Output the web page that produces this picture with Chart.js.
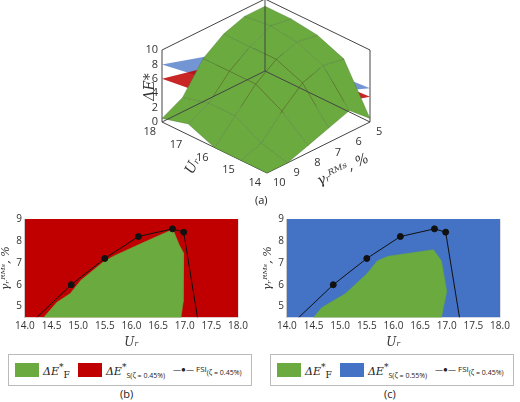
<!DOCTYPE html>
<html><head><meta charset="utf-8">
<script src="https://cdn.jsdelivr.net/npm/chart.js@4.4.0/dist/chart.umd.min.js"></script>
<style>
body{margin:0;width:520px;height:402px;background:#fff;font-family:"Open Sans",sans-serif;position:relative;overflow:hidden}
canvas{position:absolute}
.lg{position:absolute;top:354px;height:30px;border:1px solid #bbb;display:flex;align-items:center;font-size:8px;color:#222;white-space:nowrap}
.sw{display:inline-block;width:24px;height:14px;margin:0 4px 0 6px}
.de{font-family:"DejaVu Serif",serif;font-size:11px}
.lbl{position:absolute;font-size:11px;color:#222}
</style></head><body>
<canvas id="ca" style="left:0px;top:0px" width="520" height="190"></canvas>
<canvas id="cb" style="left:0px;top:205px" width="258" height="145"></canvas>
<canvas id="cc" style="left:262px;top:205px" width="258" height="145"></canvas>
<div class="lg" style="left:8px;width:242px"><span class="sw" style="background:#6aaa3f"></span><span class="de"><i>ΔE</i><sup>*</sup><sub>F</sub></span><span class="sw" style="background:#c00000;margin-left:8px"></span><span class="de"><i>ΔE</i><sup>*</sup><sub style="font-size:7px;font-family:'Open Sans'">S(ζ = 0.45%)</sub></span><span style="margin-left:8px">—●— FSI<sub style="font-size:7px">(ζ = 0.45%)</sub></span></div>
<div class="lg" style="left:270px;width:242px"><span class="sw" style="background:#4472c4;display:none"></span><span class="sw" style="background:#6aaa3f"></span><span class="de"><i>ΔE</i><sup>*</sup><sub>F</sub></span><span class="sw" style="background:#4472c4;margin-left:8px"></span><span class="de"><i>ΔE</i><sup>*</sup><sub style="font-size:7px;font-family:'Open Sans'">S(ζ = 0.55%)</sub></span><span style="margin-left:8px">—●— FSI<sub style="font-size:7px">(ζ = 0.45%)</sub></span></div>
<div class="lbl" style="left:255px;top:192px">(a)</div>
<div class="lbl" style="left:120px;top:386px">(b)</div>
<div class="lbl" style="left:384px;top:386px">(c)</div>
<script>
// 3D panel data
const uGrid = [14, 15, 16, 17, 18];
const gGrid = [5, 6, 7, 8, 9, 10];
const greenZ = [
  [0.5, 3, 2, 1, 0, 0],
  [7, 7.5, 6.5, 4, 1, 0],
  [8.5, 9, 8, 6, 3, 0],
  [9, 9.5, 8, 6, 3, 1.5],
  [9, 9, 8, 6, 2, 0.5]
];
// plane corner values: [U,g,z]
const redPlane = [[18, 10, 6], [18, 5, 2.5], [14, 5, 3.5], [14, 10, 7.9]];
const bluePlane = [[18, 10, 8], [18, 5, 3.5], [14, 5, 4.7], [14, 10, 10.5]];
const zTicks = [0, 2, 4, 6, 8, 10];
const uTicks = [14, 15, 16, 17, 18];
const gTicks = [5, 6, 7, 8, 9, 10];

// 2D panels data
const xTicks = [14, 14.5, 15, 15.5, 16, 16.5, 17, 17.5, 18];
const yTicks = [5, 6, 7, 8, 9];
const fsiU = [14.22, 14.87, 15.5, 16.13, 16.77, 16.98, 17.24];
const fsiG = [4.5, 6.0, 7.2, 8.2, 8.55, 8.4, 4.5];
const greenBU = [14.35, 14.6, 14.85, 15.05, 15.5, 15.7, 16.2, 16.75, 16.8, 16.9, 16.98, 16.97, 16.93];
const greenBG = [4.5, 5.2, 5.6, 6.2, 7.1, 7.35, 7.9, 8.5, 8.4, 7.8, 7.45, 5.2, 4.5];
const greenCU = [14.5, 14.65, 15.1, 15.5, 15.7, 15.9, 16.75, 16.9, 17.0, 16.9];
const greenCG = [4.5, 4.95, 5.6, 6.5, 7.1, 7.3, 7.6, 7.1, 5.7, 4.5];

const GREEN = '#6aaa3f', RED = '#c00000', BLUE = '#4472c4';

function proj(u, g, z) {
  return {
    x: 267 - (u - 14) / 4 * 105 + (10 - g) / 5 * 103,
    y: 173 - (u - 14) / 4 * 51 - (10 - g) / 5 * 51 - z * 7.2
  };
}

const ds3 = [];
function poly(pts, color, border) {
  const d = pts.map(p => proj(p[0], p[1], p[2]));
  d.push(d[0]);
  ds3.push({ data: d, showLine: true, fill: 'shape', backgroundColor: color,
    borderColor: border || 'rgba(0,0,0,0)', borderWidth: 0.6, pointRadius: 0, tension: 0 });
}
function seg(a, b) {
  ds3.push({ data: [proj(...a), proj(...b)], showLine: true, fill: false,
    borderColor: '#444', borderWidth: 1, pointRadius: 0 });
}
// back box
seg([18, 10, 0], [18, 5, 0]); seg([18, 5, 0], [14, 5, 0]);
seg([18, 5, 0], [18, 5, 10]);
seg([18, 10, 10], [18, 5, 10]); seg([18, 5, 10], [14, 5, 10]);
seg([18, 10, 0], [18, 10, 10]); seg([14, 5, 0], [14, 5, 10]);
// green surface, far to near
for (let i = uGrid.length - 2; i >= 0; i--) {
  for (let j = 0; j < gGrid.length - 1; j++) {
    poly([[uGrid[i + 1], gGrid[j], greenZ[i + 1][j]], [uGrid[i + 1], gGrid[j + 1], greenZ[i + 1][j + 1]],
          [uGrid[i], gGrid[j + 1], greenZ[i][j + 1]], [uGrid[i], gGrid[j], greenZ[i][j]]],
         GREEN, 'rgba(60,100,40,0.5)');
  }
}
poly(redPlane, 'rgba(192,0,0,0.85)');
poly(bluePlane, 'rgba(68,114,196,0.75)');
seg([18, 10, 0], [14, 10, 0]); seg([14, 10, 0], [14, 5, 0]);

const axisText3d = {
  id: 'axisText3d',
  afterDraw(chart) {
    const { ctx, scales } = chart;
    const px = p => ({ x: scales.x.getPixelForValue(p.x), y: scales.y.getPixelForValue(p.y) });
    ctx.save();
    ctx.fillStyle = '#333';
    ctx.font = '11px "Open Sans"';
    ctx.textAlign = 'right'; ctx.textBaseline = 'middle';
    zTicks.forEach(z => { const p = px(proj(18, 10, z)); ctx.fillText(z, p.x - 4, p.y); });
    uTicks.forEach(u => { const p = px(proj(u, 10, 0)); ctx.fillText(u, p.x - 6, p.y + 10); });
    ctx.textAlign = 'left';
    gTicks.forEach(g => { const p = px(proj(14, g, 0)); ctx.fillText(g, p.x + 6, p.y + 10); });
    ctx.font = 'italic 14px "DejaVu Serif"';
    ctx.save(); ctx.translate(150, 87); ctx.rotate(-Math.PI / 2); ctx.textAlign = 'center';
    ctx.fillText('ΔE*', 0, 0); ctx.restore();
    ctx.save(); ctx.translate(193, 166); ctx.rotate(-1.1); ctx.textAlign = 'center';
    ctx.fillText('Uᵣ', 0, 0); ctx.restore();
    ctx.save(); ctx.translate(343, 170); ctx.rotate(-0.45); ctx.textAlign = 'center';
    ctx.fillText('γᵣᴿᴹˢ, %', 0, 0); ctx.restore();
    ctx.restore();
  }
};

new Chart(document.getElementById('ca'), {
  type: 'scatter',
  data: { datasets: ds3 },
  options: {
    animation: false, responsive: false, layout: { padding: 0 },
    plugins: { legend: { display: false }, tooltip: { enabled: false } },
    scales: {
      x: { display: false, min: 0, max: 520 },
      y: { display: false, min: 0, max: 190, reverse: true }
    }
  },
  plugins: [axisText3d]
});

function panel(id, bg, gu, gg) {
  const greenPts = gu.map((u, i) => ({ x: u, y: gg[i] }));
  greenPts.push(greenPts[0]);
  new Chart(document.getElementById(id), {
    type: 'scatter',
    data: {
      datasets: [
        { data: fsiU.map((u, i) => ({ x: u, y: fsiG[i] })), showLine: true, borderColor: '#111',
          borderWidth: 1, backgroundColor: '#111', fill: false, tension: 0,
          pointRadius: fsiU.map((u, i) => (i === 0 || i === fsiU.length - 1) ? 0 : 3), order: 0 },
        { data: greenPts, showLine: true, fill: 'shape', backgroundColor: GREEN, borderColor: GREEN,
          borderWidth: 0.5, pointRadius: 0, order: 1 },
        { data: [{ x: 14, y: 9 }, { x: 18, y: 9 }], showLine: true, fill: 'start', backgroundColor: bg,
          borderColor: bg, pointRadius: 0, order: 2 }
      ]
    },
    options: {
      animation: false, responsive: false,
      layout: { padding: { right: 20, top: 14 } },
      plugins: { legend: { display: false }, tooltip: { enabled: false } },
      scales: {
        x: { type: 'linear', min: 14, max: 18,
          afterBuildTicks: s => { s.ticks = xTicks.map(v => ({ value: v })); },
          ticks: { callback: v => v.toFixed(1), color: '#333', font: { size: 10, family: 'Open Sans' }, maxRotation: 0 },
          grid: { color: 'rgba(0,0,0,0.12)', drawTicks: false },
          title: { display: true, text: 'Uᵣ', font: { size: 12, family: 'DejaVu Serif', style: 'italic' }, padding: 0, color: '#333' } },
        y: { min: 4.5, max: 9,
          afterBuildTicks: s => { s.ticks = yTicks.map(v => ({ value: v })); },
          ticks: { color: '#333', font: { size: 10, family: 'Open Sans' } },
          grid: { color: 'rgba(0,0,0,0.12)', drawTicks: false },
          title: { display: true, text: 'γᵣᴿᴹˢ, %', font: { size: 11, family: 'DejaVu Serif', style: 'italic' }, padding: 0, color: '#333' } }
      }
    }
  });
}
panel('cb', RED, greenBU, greenBG);
panel('cc', BLUE, greenCU, greenCG);
</script>
</body></html>
